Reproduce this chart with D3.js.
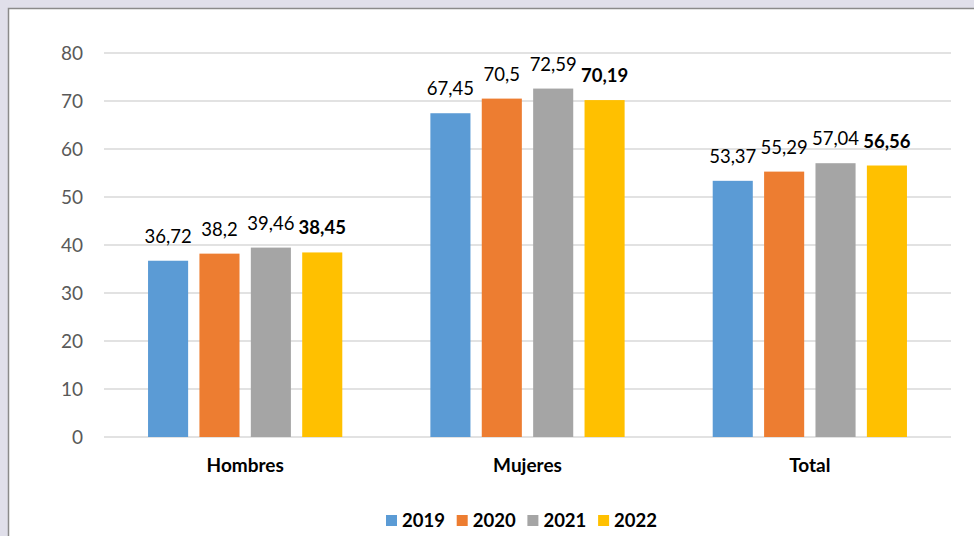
<!DOCTYPE html>
<html>
<head>
<meta charset="utf-8">
<script src="https://cdn.jsdelivr.net/npm/d3@7"></script>
<style>
  body { margin: 0; background: #e0dfea; }
  svg { display: block; }
</style>
</head>
<body>
<svg id="chart" width="974" height="536"></svg>
<script>
const categories = ["Hombres", "Mujeres", "Total"];
const years = ["2019", "2020", "2021", "2022"];
const values2019 = [36.72, 67.45, 53.37];
const values2020 = [38.2, 70.5, 55.29];
const values2021 = [39.46, 72.59, 57.04];
const values2022 = [38.45, 70.19, 56.56];
const yTicks = [0, 10, 20, 30, 40, 50, 60, 70, 80];
const colors = ["#5b9bd5", "#ed7d31", "#a5a5a5", "#ffc000"];

const series = [values2019, values2020, values2021, values2022];
const font = "Lato, 'Open Sans', sans-serif";

const svg = d3.select("#chart");

// white chart panel with grey edge
svg.append("rect")
    .attr("x", 8.5).attr("y", 8.5)
    .attr("width", 1000).attr("height", 600)
    .attr("fill", "white")
    .attr("stroke", "#8a8a8a")
    .attr("stroke-width", 1.5);

const plotLeft = 104, plotRight = 951, plotTop = 53, plotBottom = 437;

const y = d3.scaleLinear().domain([0, 80]).range([plotBottom, plotTop]);
const x0 = d3.scaleBand().domain(categories).range([plotLeft, plotRight]).paddingInner(0).paddingOuter(0);
const groupW = x0.bandwidth() * 0.688;
const x1 = d3.scaleBand().domain(years).range([0, groupW]).paddingInner(0.22).paddingOuter(0);

// gridlines
svg.append("g").selectAll("line")
    .data(yTicks)
    .enter().append("line")
    .attr("x1", plotLeft).attr("x2", plotRight)
    .attr("y1", d => y(d)).attr("y2", d => y(d))
    .attr("stroke", "#d9d9d9")
    .attr("stroke-width", 1.3);

// y axis labels
svg.append("g").selectAll("text")
    .data(yTicks)
    .enter().append("text")
    .attr("x", 83)
    .attr("y", d => y(d))
    .attr("dy", "0.36em")
    .attr("text-anchor", "end")
    .style("font-family", font)
    .style("font-size", "19px")
    .attr("fill", "#595959")
    .text(d => d);

const fmt = v => String(v).replace(".", ",");

categories.forEach((cat, ci) => {
    const gx = x0(cat) + (x0.bandwidth() - groupW) / 2;
    const g = svg.append("g").attr("transform", `translate(${gx},0)`);
    const rows = years.map((yr, si) => ({ yr, si, v: series[si][ci] }));

    g.selectAll("rect")
        .data(rows)
        .enter().append("rect")
        .attr("x", d => x1(d.yr))
        .attr("y", d => y(d.v))
        .attr("width", x1.bandwidth())
        .attr("height", d => plotBottom - y(d.v))
        .attr("fill", d => colors[d.si]);

    g.selectAll("text")
        .data(rows)
        .enter().append("text")
        .attr("x", d => x1(d.yr) + x1.bandwidth() / 2)
        .attr("y", d => y(d.v) - 18)
        .attr("text-anchor", "middle")
        .style("font-family", font)
        .style("font-size", "18.5px")
        .style("font-weight", d => d.si === 3 ? "bold" : "normal")
        .attr("fill", "#000")
        .text(d => fmt(d.v));

    svg.append("text")
        .attr("x", x0(cat) + x0.bandwidth() / 2)
        .attr("y", 472)
        .attr("text-anchor", "middle")
        .style("font-family", font)
        .style("font-size", "19px")
        .style("font-weight", "bold")
        .attr("fill", "#000")
        .text(cat);
});

// legend
const legend = svg.append("g").attr("transform", "translate(386,520)");
years.forEach((yr, i) => {
    const item = legend.append("g").attr("transform", `translate(${i * 70.7},0)`);
    item.append("rect")
        .attr("x", 0).attr("y", -5)
        .attr("width", 11).attr("height", 11)
        .attr("fill", colors[i]);
    item.append("text")
        .attr("x", 16).attr("y", 0)
        .attr("dy", "0.36em")
        .style("font-family", font)
        .style("font-size", "18.5px")
        .style("font-weight", "bold")
        .attr("fill", "#000")
        .text(yr);
});
</script>
</body>
</html>
